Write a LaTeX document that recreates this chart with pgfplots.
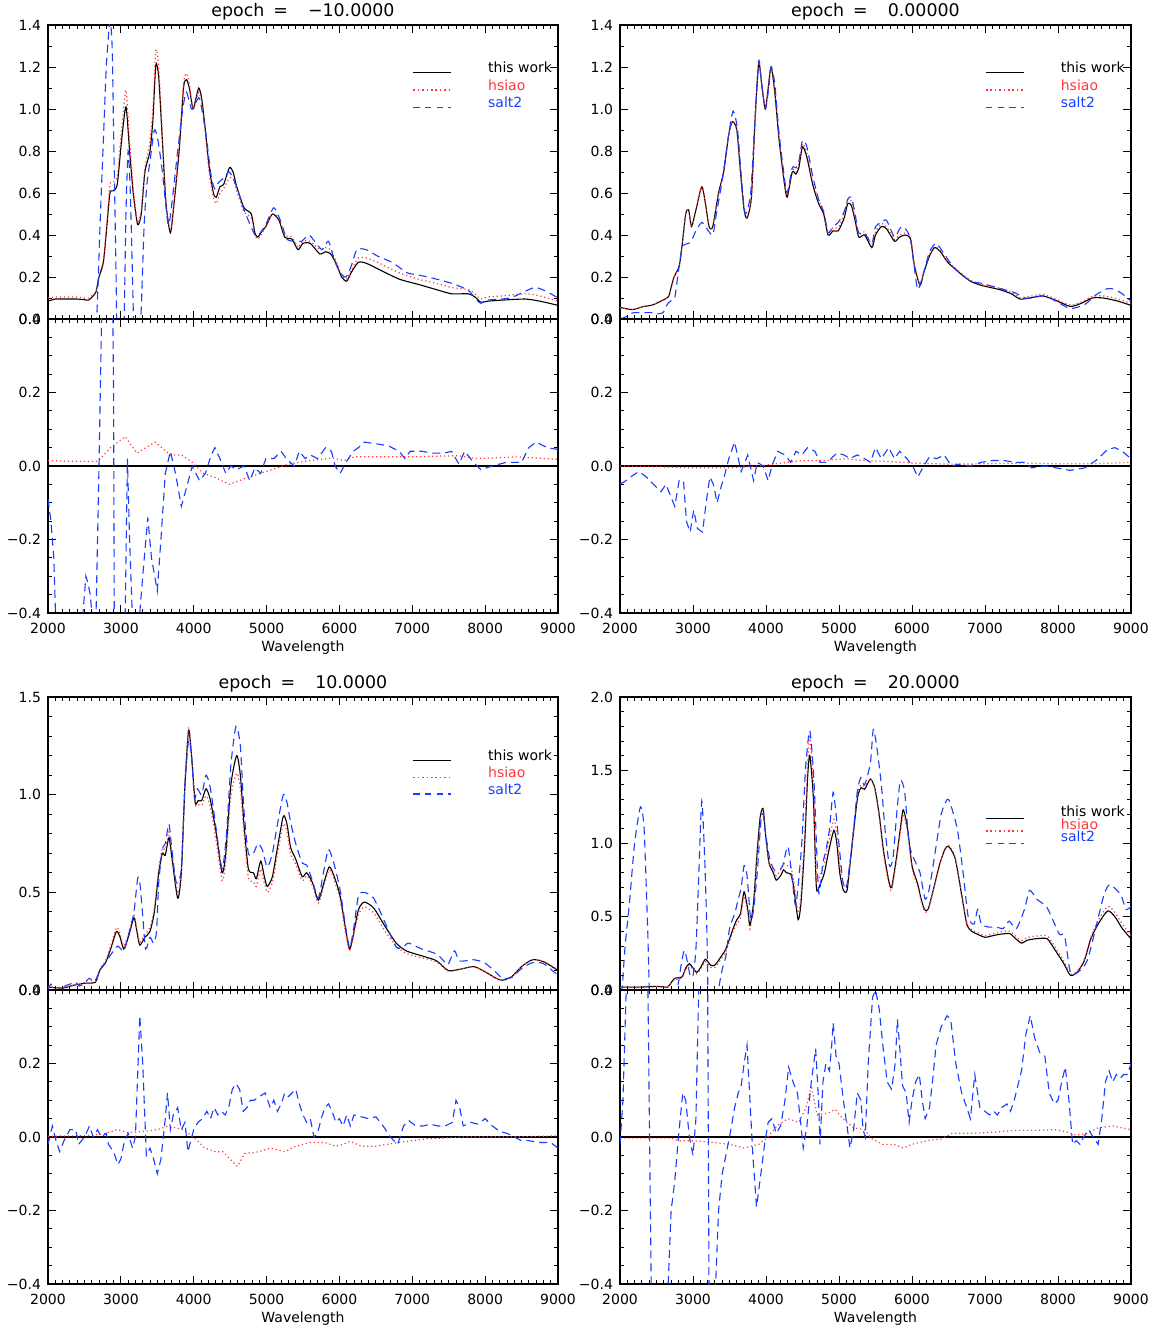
\documentclass[border=0pt]{standalone}
\usepackage{pgfplots}
\pgfplotsset{compat=1.18}
\usepackage{fontspec}
\setmainfont{DejaVu Sans}
\definecolor{hred}{RGB}{255,55,55}
\definecolor{sblue}{RGB}{25,60,255}
\newcommand{\tfont}{\fontsize{7}{8}\selectfont}
\pgfplotsset{
 idl/.style={
  scale only axis, width=255pt, height=147pt, xmin=2000, xmax=9000,
  xtick={2000,3000,4000,5000,6000,7000,8000,9000},
  minor x tick num=9, tick align=inside,
  major tick length=4pt, minor tick length=2pt,
  axis line style={line width=0.6pt},
  every tick/.append style={line width=0.45pt, black},
  tick label style={font=\tfont},
  title style={font=\fontsize{8.7}{10}\selectfont, anchor=center, yshift=0.5pt},
  xticklabel style={yshift=-1.5pt},
 },
 upper/.style={idl, xticklabels={}},
 lower/.style={idl, ymin=-0.4, ymax=0.4, ytick={-0.4,-0.2,0,0.2,0.4},
  yticklabels={−0.4,−0.2,0.0,0.2,0.4}, minor y tick num=3,
  xticklabels={2000,3000,4000,5000,6000,7000,8000,9000},
  xlabel={Wavelength}, xlabel style={font=\tfont, at={(axis description cs:0.5,0)}, anchor=center, yshift=-17.5pt}},
 myTw/.style={draw=black, line width=0.55pt},
 myHs/.style={draw=hred, line width=0.6pt, dash pattern=on 0.6pt off 1.4pt},
 mySa/.style={draw=sblue, line width=0.55pt, dash pattern=on 4pt off 2.5pt},
 myLeg/.style 2 args={legend style={draw=none, fill=none, inner sep=0pt, at={(#1)}, anchor=north west, font=\tfont, nodes={inner sep=0pt, #2}, row sep=0pt},
  legend cell align=left,
  legend image code/.code={\draw[##1] (0pt,-1.75pt) -- (19pt,-1.75pt); \path (37pt,0pt);}},
}
\newcommand{\threeleg}{%
 \addlegendimage{draw=black, line width=0.6pt}\addlegendentry{this work}
 \addlegendimage{draw=hred, line width=0.8pt, dash pattern=on 0.8pt off 1.4pt}\addlegendentry{\textcolor{hred}{hsiao}}
 \addlegendimage{draw=sblue, line width=0.8pt, dash pattern=on 3.2pt off 2.6pt}\addlegendentry{\textcolor{sblue}{salt2}}}
\begin{document}
\begin{tikzpicture}
\useasboundingbox (0,0) rectangle (577.5pt,-665.5pt);
% ================= TL upper =================
\begin{axis}[upper, at={(24pt,-12.5pt)}, anchor=north west,
 ymin=0, ymax=1.4, ytick={0,0.2,0.4,0.6,0.8,1.0,1.2,1.4}, yticklabels={0.0,0.2,0.4,0.6,0.8,1.0,1.2,1.4}, minor y tick num=1,
 title={epoch\hspace{4.5pt}=\hspace{10pt}−10.0000},
 myLeg={0.714,0.880}{text height=6pt,text depth=2.67pt}]
\threeleg
\addplot[myTw, smooth, tension=0.4, forget plot] coordinates {(2000,0.085) (2100,0.095) (2200,0.095) (2300,0.095) (2400,0.095) (2500,0.092) (2560,0.09) (2620,0.11) (2660,0.13) (2700,0.2) (2760,0.27) (2810,0.45) (2850,0.6) (2890,0.61) (2950,0.64) (3010,0.85) (3070,1.01) (3120,0.8) (3170,0.6) (3230,0.45) (3280,0.5) (3330,0.7) (3400,0.8) (3440,0.95) (3480,1.21) (3520,1.15) (3570,0.85) (3620,0.55) (3680,0.41) (3730,0.55) (3800,0.8) (3860,1.1) (3900,1.14) (3940,1.1) (3990,1.0) (4030,1.05) (4070,1.1) (4110,1.05) (4160,0.9) (4210,0.73) (4270,0.6) (4310,0.58) (4360,0.63) (4410,0.64) (4490,0.72) (4540,0.7) (4590,0.63) (4690,0.53) (4790,0.5) (4840,0.41) (4880,0.39) (4940,0.42) (4990,0.44) (5080,0.5) (5170,0.47) (5250,0.39) (5350,0.38) (5430,0.33) (5500,0.36) (5600,0.36) (5730,0.31) (5810,0.32) (5880,0.31) (5960,0.26) (6030,0.2) (6100,0.18) (6160,0.22) (6260,0.27) (6370,0.265) (6520,0.24) (6820,0.19) (7080,0.165) (7330,0.14) (7540,0.12) (7770,0.12) (7860,0.105) (7940,0.08) (8040,0.085) (8240,0.09) (8550,0.095) (8750,0.085) (9000,0.065)};
\addplot[myHs, smooth, tension=0.4, forget plot] coordinates {(2000,0.1) (2100,0.105) (2200,0.105) (2300,0.105) (2400,0.105) (2500,0.1) (2560,0.1) (2620,0.115) (2660,0.135) (2700,0.21) (2760,0.28) (2810,0.47) (2850,0.64) (2890,0.65) (2950,0.68) (3010,0.9) (3070,1.09) (3120,0.85) (3170,0.62) (3230,0.46) (3280,0.52) (3330,0.72) (3400,0.85) (3440,1.0) (3480,1.28) (3520,1.2) (3570,0.87) (3620,0.55) (3680,0.42) (3730,0.56) (3800,0.82) (3860,1.12) (3900,1.17) (3940,1.12) (3990,1.0) (4030,1.04) (4070,1.08) (4110,1.03) (4160,0.88) (4210,0.7) (4270,0.58) (4310,0.55) (4360,0.6) (4410,0.62) (4490,0.67) (4540,0.67) (4590,0.61) (4690,0.51) (4790,0.48) (4840,0.4) (4880,0.38) (4940,0.41) (4990,0.44) (5080,0.5) (5170,0.48) (5250,0.4) (5350,0.39) (5430,0.34) (5500,0.37) (5600,0.37) (5730,0.33) (5810,0.34) (5880,0.33) (5960,0.27) (6030,0.21) (6100,0.19) (6160,0.23) (6260,0.29) (6370,0.29) (6520,0.27) (6820,0.22) (7080,0.19) (7330,0.17) (7540,0.15) (7770,0.14) (7860,0.12) (7940,0.095) (8040,0.105) (8240,0.11) (8550,0.12) (8750,0.11) (9000,0.085)};
\addplot[mySa, smooth, tension=0.4, forget plot] coordinates {(2000,-0.005) (2080,-0.16) (2150,-0.5) (2450,-0.5) (2520,-0.21) (2580,-0.25) (2620,-0.3) (2660,-0.05) (2680,0.1) (2720,0.5) (2760,0.85) (2800,1.2) (2850,1.42) (2880,1.3) (2900,0.9) (2930,0.3) (2950,-0.1) (3000,-0.4) (3040,-0.1) (3070,0.5) (3100,0.8) (3130,0.6) (3160,0.2) (3190,-0.2) (3240,-0.2) (3280,0.05) (3320,0.45) (3360,0.65) (3400,0.75) (3460,0.9) (3510,0.85) (3570,0.7) (3650,0.45) (3700,0.55) (3780,0.8) (3850,1.0) (3900,1.08) (3970,1.0) (4030,1.03) (4080,1.05) (4160,0.9) (4240,0.68) (4290,0.62) (4340,0.65) (4410,0.67) (4490,0.7) (4590,0.63) (4690,0.52) (4840,0.4) (4890,0.4) (4990,0.45) (5100,0.53) (5200,0.46) (5280,0.38) (5400,0.37) (5480,0.37) (5580,0.4) (5660,0.37) (5760,0.33) (5850,0.37) (5930,0.28) (6010,0.22) (6090,0.2) (6160,0.25) (6240,0.33) (6370,0.33) (6520,0.3) (6720,0.27) (6930,0.22) (7080,0.21) (7330,0.19) (7540,0.17) (7690,0.15) (7790,0.13) (7860,0.1) (7940,0.075) (8040,0.09) (8340,0.1) (8600,0.14) (8700,0.15) (8850,0.13) (9000,0.1)};
\end{axis}
% ================= TL lower =================
\begin{axis}[lower, at={(24pt,-159.5pt)}, anchor=north west]
\addplot[black, line width=0.6pt] coordinates {(2000,0) (9000,0)};
\addplot[myHs] coordinates {(2000,0.015) (2300,0.013) (2680,0.012) (2860,0.05) (3060,0.08) (3220,0.035) (3470,0.065) (3680,0.03) (3830,0.03) (3980,0.01) (4130,-0.02) (4280,-0.03) (4490,-0.05) (4690,-0.035) (4990,-0.015) (5300,0.005) (5600,0.015) (5910,0.022) (6060,0.015) (6210,0.025) (6920,0.025) (7630,0.028) (7890,0.02) (8450,0.025) (9000,0.018)};
\addplot[mySa] coordinates {(2000,-0.09) (2040,-0.15) (2080,-0.25) (2110,-0.45) (2300,-0.6) (2460,-0.45) (2480,-0.4) (2520,-0.3) (2550,-0.32) (2580,-0.35) (2610,-0.42) (2650,-0.5) (2700,0.0) (2740,0.45) (2760,0.6) (2880,0.6) (2900,0.2) (2910,-0.45) (3000,-0.6) (3060,-0.4) (3090,0.02) (3120,-0.2) (3160,-0.42) (3240,-0.45) (3300,-0.3) (3370,-0.14) (3420,-0.25) (3500,-0.34) (3550,-0.2) (3610,-0.02) (3680,0.04) (3750,-0.02) (3830,-0.11) (3900,-0.06) (3980,0.0) (4080,-0.04) (4160,-0.02) (4240,0.03) (4290,0.05) (4360,0.02) (4440,-0.02) (4510,0.0) (4590,-0.01) (4690,0.0) (4770,-0.04) (4840,-0.005) (4920,-0.02) (4990,0.02) (5100,0.02) (5200,0.04) (5270,0.02) (5380,0.0) (5450,0.04) (5530,0.02) (5600,0.03) (5700,0.02) (5810,0.05) (5890,0.04) (5940,0.0) (6010,-0.02) (6090,0.01) (6190,0.04) (6260,0.05) (6340,0.065) (6520,0.06) (6670,0.055) (6820,0.04) (6900,0.02) (6970,0.04) (7130,0.04) (7280,0.035) (7440,0.035) (7540,0.04) (7640,0.005) (7720,0.04) (7840,0.01) (7940,-0.01) (8100,0.0) (8290,0.01) (8500,0.01) (8600,0.05) (8700,0.065) (8850,0.05) (9000,0.045)};
\end{axis}
% ================= TR upper =================
\begin{axis}[upper, at={(310pt,-12.5pt)}, anchor=north west, width=255.5pt,
 ymin=0, ymax=1.4, ytick={0,0.2,0.4,0.6,0.8,1.0,1.2,1.4}, yticklabels={0.0,0.2,0.4,0.6,0.8,1.0,1.2,1.4}, minor y tick num=1,
 title={epoch\hspace{4.5pt}=\hspace{10pt}0.00000},
 myLeg={0.714,0.880}{text height=6pt,text depth=2.67pt}]
\threeleg
\addplot[myTw, smooth, tension=0.4, forget plot] coordinates {(2000,0.055) (2100,0.048) (2180,0.045) (2330,0.06) (2430,0.065) (2530,0.08) (2660,0.105) (2700,0.15) (2740,0.2) (2810,0.25) (2850,0.35) (2900,0.5) (2940,0.52) (2980,0.44) (3040,0.52) (3120,0.63) (3170,0.55) (3220,0.44) (3270,0.44) (3350,0.6) (3420,0.7) (3490,0.88) (3540,0.94) (3600,0.9) (3650,0.7) (3700,0.52) (3740,0.48) (3800,0.58) (3850,0.95) (3900,1.22) (3940,1.12) (3990,1.0) (4030,1.1) (4070,1.2) (4120,1.08) (4180,0.85) (4250,0.65) (4290,0.58) (4360,0.7) (4410,0.69) (4450,0.72) (4500,0.82) (4560,0.77) (4640,0.64) (4720,0.55) (4790,0.5) (4850,0.4) (4920,0.42) (4990,0.42) (5070,0.48) (5120,0.55) (5170,0.54) (5220,0.47) (5270,0.39) (5350,0.4) (5450,0.34) (5500,0.4) (5580,0.44) (5650,0.43) (5760,0.37) (5830,0.39) (5910,0.4) (5980,0.38) (6030,0.26) (6110,0.16) (6160,0.22) (6240,0.3) (6310,0.34) (6390,0.32) (6490,0.27) (6650,0.22) (6800,0.18) (6950,0.16) (7200,0.14) (7360,0.12) (7480,0.095) (7610,0.1) (7790,0.11) (7960,0.09) (8170,0.06) (8320,0.075) (8470,0.1) (8620,0.1) (8820,0.085) (9000,0.065)};
\addplot[myHs, smooth, tension=0.4, forget plot] coordinates {(2000,0.055) (2100,0.048) (2180,0.045) (2330,0.06) (2430,0.065) (2530,0.08) (2660,0.105) (2700,0.15) (2740,0.2) (2810,0.25) (2850,0.35) (2900,0.5) (2940,0.52) (2980,0.44) (3040,0.52) (3120,0.63) (3170,0.55) (3220,0.44) (3270,0.44) (3350,0.6) (3420,0.7) (3490,0.88) (3540,0.94) (3600,0.9) (3650,0.7) (3700,0.52) (3740,0.48) (3800,0.58) (3850,0.95) (3900,1.22) (3940,1.12) (3990,1.0) (4030,1.1) (4070,1.2) (4120,1.09) (4180,0.86) (4250,0.66) (4290,0.59) (4360,0.71) (4410,0.7) (4450,0.74) (4500,0.835) (4560,0.79) (4640,0.655) (4720,0.565) (4790,0.515) (4850,0.415) (4920,0.435) (4990,0.435) (5070,0.5) (5120,0.57) (5170,0.56) (5220,0.485) (5270,0.405) (5350,0.415) (5450,0.355) (5500,0.415) (5580,0.455) (5650,0.44) (5760,0.38) (5830,0.4) (5910,0.41) (5980,0.39) (6030,0.265) (6110,0.165) (6160,0.225) (6240,0.305) (6310,0.345) (6390,0.325) (6490,0.275) (6650,0.225) (6800,0.185) (6950,0.165) (7200,0.147) (7360,0.127) (7480,0.102) (7610,0.108) (7790,0.118) (7960,0.096) (8170,0.066) (8320,0.081) (8470,0.107) (8620,0.11) (8820,0.095) (9000,0.075)};
\addplot[mySa, smooth, tension=0.4, forget plot] coordinates {(2000,0.0) (2080,0.01) (2130,0.025) (2200,0.03) (2280,0.03) (2360,0.03) (2430,0.03) (2520,0.025) (2590,0.03) (2630,0.06) (2660,0.075) (2710,0.09) (2750,0.1) (2790,0.2) (2830,0.3) (2860,0.35) (2940,0.36) (2990,0.38) (3040,0.42) (3120,0.46) (3190,0.43) (3270,0.4) (3320,0.5) (3400,0.66) (3490,0.88) (3550,0.99) (3610,0.9) (3680,0.6) (3720,0.5) (3790,0.6) (3850,0.95) (3900,1.23) (3940,1.12) (3990,1.0) (4030,1.08) (4070,1.2) (4120,1.12) (4180,0.88) (4250,0.68) (4290,0.6) (4360,0.72) (4410,0.72) (4450,0.75) (4500,0.85) (4560,0.82) (4640,0.68) (4720,0.57) (4790,0.51) (4850,0.41) (4920,0.44) (4990,0.46) (5070,0.51) (5120,0.57) (5170,0.58) (5220,0.5) (5270,0.41) (5350,0.41) (5450,0.36) (5500,0.44) (5580,0.46) (5650,0.47) (5760,0.39) (5830,0.43) (5880,0.44) (5930,0.42) (5980,0.38) (6030,0.25) (6080,0.14) (6160,0.22) (6240,0.32) (6330,0.36) (6440,0.31) (6540,0.26) (6650,0.22) (6800,0.18) (6950,0.17) (7110,0.155) (7260,0.14) (7410,0.125) (7540,0.1) (7640,0.1) (7820,0.11) (7970,0.085) (8170,0.05) (8370,0.07) (8520,0.115) (8680,0.145) (8780,0.14) (8880,0.12) (9000,0.085)};
\end{axis}
% ================= TR lower =================
\begin{axis}[lower, at={(310pt,-159.5pt)}, anchor=north west, width=255.5pt]
\addplot[black, line width=0.6pt] coordinates {(2000,0) (9000,0)};
\addplot[myHs] coordinates {(2000,0.0) (2500,-0.002) (3000,-0.005) (3500,-0.005) (3900,0.0) (4100,0.005) (4500,0.015) (4800,0.015) (5100,0.02) (5300,0.015) (5600,0.013) (6000,0.008) (6500,0.005) (7000,0.006) (7500,0.008) (8000,0.006) (8500,0.006) (9000,0.01)};
\addplot[mySa] coordinates {(2000,-0.05) (2080,-0.04) (2180,-0.025) (2260,-0.015) (2360,-0.03) (2460,-0.05) (2560,-0.07) (2630,-0.05) (2710,-0.09) (2750,-0.11) (2810,-0.04) (2870,-0.04) (2910,-0.15) (2960,-0.18) (3010,-0.12) (3060,-0.17) (3130,-0.18) (3180,-0.1) (3230,-0.03) (3280,-0.05) (3330,-0.1) (3380,-0.06) (3440,-0.02) (3490,0.02) (3570,0.065) (3620,0.02) (3660,-0.015) (3750,0.03) (3830,-0.04) (3880,0.01) (3960,0.0) (4030,-0.04) (4080,0.0) (4160,0.04) (4260,0.03) (4340,0.01) (4410,0.04) (4490,0.03) (4570,0.05) (4670,0.04) (4740,0.01) (4820,0.01) (4890,0.02) (4970,0.035) (5070,0.03) (5150,0.02) (5250,0.03) (5350,0.02) (5430,0.01) (5500,0.05) (5580,0.02) (5680,0.05) (5760,0.02) (5830,0.04) (5930,0.02) (6010,0.0) (6080,-0.03) (6160,0.0) (6240,0.025) (6340,0.02) (6440,0.03) (6540,0.0) (6640,0.005) (6790,0.0) (6950,0.01) (7110,0.015) (7260,0.015) (7410,0.01) (7540,0.01) (7640,-0.005) (7820,0.0) (7970,-0.005) (8170,-0.012) (8370,-0.005) (8520,0.015) (8680,0.045) (8780,0.05) (8880,0.04) (9000,0.02)};
\end{axis}
% ================= BL upper =================
\begin{axis}[upper, at={(24pt,-348.5pt)}, anchor=north west, height=146.5pt,
 ymin=0, ymax=1.5, ytick={0,0.5,1,1.5}, yticklabels={0.0,0.5,1.0,1.5}, minor y tick num=4,
 title={epoch\hspace{4.5pt}=\hspace{10pt}10.0000},
 myLeg={0.714,0.825}{text height=6pt,text depth=2.4pt}]
\threeleg
\addplot[myTw, smooth, tension=0.4, forget plot] coordinates {(2000,0.015) (2200,0.01) (2360,0.025) (2510,0.035) (2650,0.04) (2710,0.1) (2790,0.14) (2860,0.21) (2940,0.3) (2990,0.27) (3040,0.21) (3110,0.28) (3180,0.37) (3220,0.3) (3260,0.23) (3330,0.27) (3400,0.3) (3460,0.4) (3520,0.6) (3570,0.7) (3610,0.69) (3660,0.78) (3700,0.68) (3780,0.47) (3830,0.6) (3880,1.05) (3930,1.33) (3970,1.2) (4020,0.96) (4060,0.97) (4110,0.97) (4170,1.03) (4230,0.97) (4310,0.8) (4390,0.6) (4440,0.7) (4510,1.05) (4590,1.2) (4640,1.1) (4690,0.85) (4750,0.62) (4820,0.6) (4860,0.57) (4920,0.66) (4970,0.58) (5010,0.53) (5080,0.58) (5150,0.73) (5230,0.89) (5280,0.85) (5330,0.73) (5400,0.67) (5490,0.58) (5550,0.6) (5630,0.55) (5710,0.46) (5780,0.54) (5860,0.63) (5930,0.58) (6010,0.48) (6090,0.3) (6140,0.21) (6190,0.28) (6260,0.41) (6340,0.45) (6470,0.42) (6620,0.33) (6780,0.24) (6920,0.2) (7130,0.175) (7330,0.15) (7490,0.1) (7640,0.105) (7840,0.12) (7990,0.095) (8150,0.06) (8240,0.05) (8370,0.07) (8500,0.12) (8650,0.155) (8800,0.145) (9000,0.1)};
\addplot[myHs, smooth, tension=0.4, forget plot] coordinates {(2000,0.017) (2200,0.012) (2360,0.027) (2510,0.038) (2650,0.044) (2710,0.105) (2790,0.15) (2860,0.225) (2940,0.32) (2990,0.29) (3040,0.225) (3110,0.295) (3180,0.385) (3220,0.315) (3260,0.245) (3330,0.285) (3400,0.32) (3460,0.42) (3520,0.625) (3570,0.725) (3610,0.72) (3660,0.81) (3700,0.71) (3780,0.495) (3830,0.62) (3880,1.07) (3930,1.345) (3970,1.21) (4020,0.955) (4060,0.95) (4110,0.945) (4170,0.995) (4230,0.935) (4310,0.76) (4390,0.56) (4440,0.66) (4510,0.99) (4590,1.11) (4640,1.03) (4690,0.8) (4750,0.575) (4820,0.555) (4860,0.53) (4920,0.62) (4970,0.545) (5010,0.5) (5080,0.55) (5150,0.695) (5230,0.85) (5280,0.81) (5330,0.695) (5400,0.645) (5490,0.56) (5550,0.585) (5630,0.535) (5710,0.445) (5780,0.525) (5860,0.615) (5930,0.56) (6010,0.46) (6090,0.28) (6140,0.2) (6190,0.27) (6260,0.385) (6340,0.425) (6470,0.395) (6620,0.305) (6780,0.225) (6920,0.187) (7130,0.165) (7330,0.145) (7490,0.097) (7640,0.104) (7840,0.12) (7990,0.095) (8150,0.06) (8240,0.05) (8370,0.07) (8500,0.12) (8650,0.156) (8800,0.147) (9000,0.103)};
\addplot[mySa, smooth, tension=0.4, forget plot] coordinates {(2000,0.0) (2040,0.03) (2080,0.0) (2120,-0.01) (2170,0.0) (2230,0.02) (2300,0.03) (2380,0.04) (2430,0.02) (2500,0.035) (2570,0.06) (2630,0.04) (2690,0.08) (2740,0.12) (2790,0.14) (2860,0.18) (2900,0.2) (2960,0.225) (3040,0.2) (3110,0.29) (3180,0.4) (3230,0.57) (3260,0.55) (3300,0.38) (3340,0.21) (3400,0.27) (3450,0.24) (3490,0.3) (3520,0.55) (3570,0.72) (3610,0.75) (3660,0.85) (3700,0.72) (3760,0.55) (3830,0.62) (3880,1.05) (3930,1.28) (3970,1.2) (4010,0.98) (4050,1.03) (4110,1.0) (4170,1.1) (4230,1.03) (4310,0.82) (4390,0.62) (4450,0.8) (4510,1.15) (4580,1.35) (4640,1.25) (4690,0.92) (4750,0.7) (4820,0.7) (4880,0.75) (4940,0.72) (5010,0.63) (5080,0.7) (5150,0.85) (5230,1.0) (5280,0.96) (5330,0.86) (5400,0.75) (5490,0.65) (5550,0.64) (5630,0.56) (5710,0.47) (5780,0.6) (5850,0.72) (5930,0.64) (6010,0.51) (6090,0.31) (6140,0.22) (6190,0.3) (6260,0.48) (6340,0.5) (6470,0.47) (6620,0.35) (6780,0.22) (6880,0.22) (6950,0.24) (7130,0.21) (7330,0.185) (7430,0.15) (7490,0.13) (7580,0.2) (7640,0.15) (7740,0.15) (7840,0.155) (7990,0.14) (8150,0.09) (8240,0.06) (8370,0.065) (8500,0.11) (8650,0.14) (8800,0.135) (9000,0.075)};
\end{axis}
% ================= BL lower =================
\begin{axis}[lower, at={(24pt,-495pt)}, anchor=north west]
\addplot[black, line width=0.6pt] coordinates {(2000,0) (9000,0)};
\addplot[myHs] coordinates {(2000,0.002) (2600,0.004) (2800,0.01) (2950,0.02) (3100,0.012) (3300,0.015) (3500,0.02) (3650,0.03) (3850,0.02) (4000,0.0) (4150,-0.03) (4300,-0.04) (4400,-0.04) (4500,-0.06) (4600,-0.08) (4700,-0.045) (4900,-0.04) (5050,-0.03) (5250,-0.04) (5400,-0.025) (5600,-0.015) (5800,-0.015) (5950,-0.025) (6050,-0.02) (6150,-0.012) (6300,-0.025) (6500,-0.025) (6800,-0.015) (7200,-0.005) (7700,0.0) (8300,0.0) (9000,0.003)};
\addplot[mySa] coordinates {(2000,-0.02) (2060,0.03) (2110,-0.01) (2160,-0.04) (2220,-0.01) (2300,0.02) (2380,0.02) (2420,-0.02) (2500,0.0) (2570,0.03) (2620,0.0) (2680,0.02) (2730,0.0) (2800,0.01) (2830,-0.02) (2900,-0.04) (2960,-0.075) (3000,-0.06) (3050,-0.01) (3100,0.01) (3160,-0.03) (3200,0.0) (3260,0.33) (3300,0.2) (3350,-0.05) (3400,-0.03) (3450,-0.06) (3500,-0.1) (3550,-0.06) (3610,0.05) (3640,0.12) (3680,0.02) (3720,0.06) (3780,0.08) (3830,0.02) (3880,0.04) (3920,-0.04) (3960,-0.01) (4000,0.02) (4060,0.04) (4120,0.05) (4180,0.07) (4230,0.05) (4280,0.08) (4330,0.06) (4380,0.07) (4430,0.06) (4480,0.08) (4530,0.13) (4580,0.145) (4630,0.13) (4680,0.07) (4730,0.08) (4780,0.1) (4830,0.1) (4900,0.11) (4980,0.12) (5050,0.08) (5100,0.1) (5150,0.07) (5200,0.09) (5250,0.12) (5300,0.11) (5350,0.12) (5400,0.13) (5450,0.09) (5500,0.06) (5550,0.04) (5600,0.05) (5650,0.0) (5700,0.01) (5750,0.05) (5800,0.08) (5850,0.09) (5900,0.07) (5950,0.04) (6000,0.05) (6050,0.03) (6100,0.06) (6150,0.03) (6200,0.06) (6300,0.055) (6400,0.05) (6500,0.055) (6600,0.03) (6700,0.0) (6800,-0.02) (6880,0.03) (6950,0.045) (7050,0.03) (7150,0.03) (7250,0.035) (7350,0.03) (7450,0.03) (7550,0.04) (7600,0.1) (7650,0.08) (7700,0.03) (7800,0.04) (7900,0.035) (8000,0.05) (8100,0.03) (8200,0.015) (8300,0.01) (8400,0.0) (8500,-0.01) (8600,-0.01) (8750,-0.015) (8900,-0.015) (9000,-0.03)};
\end{axis}
% ================= BR upper =================
\begin{axis}[upper, at={(310pt,-348.5pt)}, anchor=north west, width=255.5pt, height=146.5pt,
 ymin=0, ymax=2, ytick={0,0.5,1,1.5,2}, yticklabels={0.0,0.5,1.0,1.5,2.0}, minor y tick num=4,
 title={epoch\hspace{4.5pt}=\hspace{10pt}20.0000},
 myLeg={0.714,0.620}{text height=3.9pt,text depth=2.35pt}]
\threeleg
\addplot[myTw, smooth, tension=0.4, forget plot] coordinates {(2000,0.02) (2300,0.02) (2500,0.025) (2650,0.02) (2700,0.05) (2750,0.08) (2850,0.09) (2900,0.15) (2950,0.18) (3000,0.15) (3050,0.12) (3100,0.15) (3170,0.21) (3240,0.17) (3300,0.17) (3400,0.24) (3450,0.28) (3550,0.42) (3600,0.48) (3650,0.52) (3700,0.67) (3750,0.55) (3780,0.44) (3830,0.6) (3880,0.95) (3920,1.18) (3960,1.24) (3990,1.08) (4040,0.87) (4100,0.8) (4140,0.75) (4200,0.78) (4240,0.82) (4280,0.8) (4340,0.79) (4380,0.7) (4440,0.48) (4480,0.6) (4530,1.0) (4570,1.45) (4600,1.6) (4650,1.3) (4690,0.7) (4740,0.72) (4800,0.8) (4860,0.95) (4930,1.09) (4970,1.0) (5010,0.8) (5060,0.68) (5110,0.68) (5160,0.9) (5250,1.3) (5300,1.38) (5350,1.37) (5430,1.44) (5490,1.38) (5550,1.2) (5610,0.95) (5680,0.75) (5720,0.7) (5780,0.88) (5840,1.1) (5880,1.23) (5940,1.1) (6000,0.85) (6080,0.72) (6120,0.63) (6170,0.55) (6220,0.55) (6300,0.7) (6380,0.86) (6450,0.96) (6500,0.98) (6590,0.9) (6680,0.65) (6750,0.45) (6820,0.4) (6900,0.38) (7000,0.36) (7100,0.37) (7200,0.38) (7340,0.385) (7420,0.35) (7500,0.32) (7580,0.34) (7700,0.35) (7850,0.35) (7950,0.28) (8080,0.18) (8170,0.1) (8260,0.12) (8360,0.2) (8450,0.35) (8550,0.45) (8680,0.54) (8780,0.5) (8880,0.42) (9000,0.35)};
\addplot[myHs, smooth, tension=0.4, forget plot] coordinates {(2000,0.017) (2300,0.017) (2500,0.022) (2650,0.018) (2700,0.047) (2750,0.072) (2850,0.08) (2900,0.14) (2950,0.17) (3000,0.14) (3050,0.11) (3100,0.137) (3170,0.196) (3240,0.155) (3300,0.155) (3400,0.222) (3450,0.262) (3550,0.4) (3600,0.455) (3650,0.49) (3700,0.64) (3750,0.52) (3780,0.415) (3830,0.575) (3880,0.93) (3920,1.16) (3960,1.23) (3990,1.075) (4040,0.875) (4100,0.82) (4140,0.78) (4200,0.82) (4240,0.865) (4280,0.85) (4340,0.84) (4380,0.745) (4440,0.525) (4480,0.65) (4530,1.07) (4570,1.55) (4600,1.73) (4650,1.4) (4690,0.76) (4740,0.78) (4800,0.865) (4860,1.015) (4930,1.165) (4970,1.07) (5010,0.855) (5060,0.725) (5110,0.715) (5160,0.925) (5250,1.325) (5300,1.4) (5350,1.39) (5430,1.44) (5490,1.37) (5550,1.185) (5610,0.93) (5680,0.73) (5720,0.68) (5780,0.855) (5840,1.07) (5880,1.2) (5940,1.075) (6000,0.83) (6080,0.705) (6120,0.618) (6170,0.54) (6220,0.542) (6300,0.695) (6380,0.86) (6450,0.962) (6500,0.987) (6590,0.91) (6680,0.66) (6750,0.46) (6820,0.41) (6900,0.391) (7000,0.372) (7100,0.383) (7200,0.395) (7340,0.402) (7420,0.368) (7500,0.338) (7580,0.358) (7700,0.368) (7850,0.369) (7950,0.3) (8080,0.197) (8170,0.11) (8260,0.125) (8360,0.21) (8450,0.36) (8550,0.475) (8680,0.57) (8780,0.53) (8880,0.45) (9000,0.37)};
\addplot[mySa, smooth, tension=0.4, forget plot] coordinates {(2000,-0.02) (2030,0.02) (2070,0.3) (2130,0.6) (2200,1.0) (2280,1.25) (2330,1.1) (2380,0.4) (2430,-0.4) (2550,-0.45) (2630,-0.4) (2700,-0.18) (2760,-0.03) (2800,0.05) (2840,0.18) (2880,0.27) (2920,0.2) (2960,0.1) (3000,0.1) (3040,0.28) (3080,0.8) (3120,1.29) (3160,0.9) (3190,0.4) (3220,-0.3) (3300,-0.28) (3350,0.0) (3400,0.14) (3450,0.23) (3500,0.42) (3570,0.52) (3620,0.62) (3660,0.7) (3700,0.85) (3740,0.78) (3790,0.48) (3830,0.55) (3880,0.8) (3930,1.15) (3960,1.2) (4000,1.05) (4050,0.9) (4110,0.82) (4180,0.82) (4230,0.85) (4300,0.98) (4360,0.75) (4410,0.58) (4490,1.0) (4540,1.5) (4600,1.77) (4660,1.4) (4720,0.67) (4780,0.87) (4820,0.95) (4870,1.1) (4920,1.35) (4970,1.15) (5050,0.75) (5100,0.7) (5170,0.95) (5250,1.35) (5300,1.45) (5350,1.4) (5430,1.55) (5470,1.78) (5520,1.65) (5580,1.4) (5630,1.1) (5690,0.85) (5740,0.9) (5790,1.2) (5840,1.43) (5900,1.35) (5960,1.0) (6040,0.88) (6110,0.8) (6180,0.62) (6240,0.7) (6320,0.95) (6400,1.2) (6480,1.3) (6520,1.28) (6620,1.1) (6700,0.8) (6770,0.5) (6850,0.45) (6900,0.55) (6950,0.45) (7050,0.43) (7150,0.43) (7250,0.42) (7330,0.47) (7430,0.42) (7540,0.55) (7610,0.68) (7710,0.62) (7840,0.57) (7910,0.5) (8020,0.38) (8090,0.37) (8170,0.12) (8270,0.12) (8400,0.2) (8530,0.45) (8630,0.65) (8710,0.72) (8860,0.65) (8930,0.55) (9000,0.57)};
\end{axis}
% ================= BR lower =================
\begin{axis}[lower, at={(310pt,-495pt)}, anchor=north west, width=255.5pt]
\addplot[black, line width=0.6pt] coordinates {(2000,0) (9000,0)};
\addplot[myHs] coordinates {(2000,-0.003) (2700,-0.003) (2800,-0.01) (3000,-0.01) (3300,-0.015) (3500,-0.02) (3700,-0.03) (3900,-0.02) (4000,-0.005) (4150,0.03) (4300,0.05) (4450,0.04) (4550,0.08) (4620,0.14) (4700,0.06) (4850,0.065) (4950,0.075) (5050,0.05) (5200,0.025) (5350,0.02) (5450,-0.005) (5600,-0.02) (5750,-0.02) (5880,-0.03) (6000,-0.02) (6200,-0.01) (6400,-0.005) (6550,0.01) (6800,0.01) (7100,0.013) (7400,0.018) (7700,0.018) (7950,0.02) (8100,0.015) (8250,0.005) (8400,0.01) (8550,0.025) (8750,0.03) (9000,0.02)};
\addplot[mySa] coordinates {(2000,-0.02) (2040,0.1) (2070,0.3) (2100,0.5) (2200,0.7) (2330,0.6) (2380,0.45) (2430,-0.45) (2550,-0.6) (2630,-0.45) (2660,-0.4) (2700,-0.2) (2750,-0.12) (2800,0.0) (2860,0.12) (2900,0.1) (2950,0.0) (3000,-0.05) (3040,0.05) (3080,0.42) (3150,0.6) (3200,0.45) (3220,-0.45) (3300,-0.45) (3350,-0.2) (3400,-0.1) (3450,-0.05) (3500,0.0) (3570,0.08) (3620,0.12) (3660,0.14) (3700,0.2) (3740,0.25) (3780,0.1) (3820,-0.05) (3870,-0.19) (3930,-0.1) (3980,-0.02) (4030,0.04) (4080,0.05) (4140,0.01) (4200,0.03) (4260,0.1) (4310,0.19) (4370,0.15) (4430,0.12) (4480,0.03) (4510,-0.03) (4560,0.03) (4620,0.15) (4680,0.24) (4720,0.1) (4740,-0.02) (4780,0.15) (4820,0.2) (4870,0.18) (4900,0.25) (4920,0.31) (4960,0.22) (5000,0.2) (5060,0.1) (5110,0.03) (5150,-0.03) (5200,0.02) (5250,0.12) (5300,0.1) (5330,0.02) (5360,0.0) (5400,0.2) (5460,0.38) (5500,0.4) (5550,0.35) (5600,0.25) (5660,0.15) (5720,0.13) (5770,0.2) (5800,0.32) (5830,0.25) (5870,0.14) (5920,0.12) (5960,0.04) (6000,0.1) (6050,0.15) (6100,0.17) (6140,0.1) (6180,0.05) (6240,0.08) (6280,0.15) (6330,0.25) (6400,0.3) (6480,0.33) (6530,0.32) (6600,0.2) (6680,0.12) (6750,0.08) (6800,0.05) (6860,0.17) (6930,0.08) (7000,0.07) (7060,0.06) (7120,0.07) (7170,0.06) (7230,0.08) (7300,0.09) (7350,0.07) (7400,0.1) (7500,0.18) (7560,0.28) (7620,0.33) (7680,0.27) (7750,0.23) (7820,0.22) (7880,0.12) (7950,0.09) (8000,0.1) (8050,0.15) (8100,0.19) (8150,0.1) (8200,-0.02) (8250,-0.01) (8300,-0.02) (8350,0.0) (8420,0.02) (8480,0.0) (8550,-0.02) (8600,0.05) (8650,0.15) (8700,0.18) (8750,0.15) (8800,0.17) (8850,0.16) (8900,0.17) (8950,0.17) (9000,0.2)};
\end{axis}
\end{tikzpicture}
\end{document}
